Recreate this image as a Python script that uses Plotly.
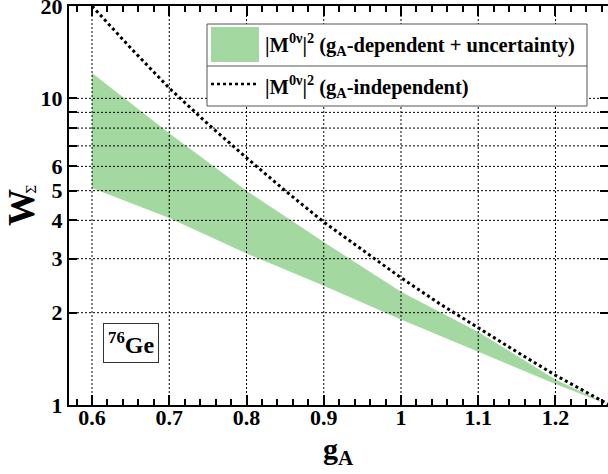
import plotly.graph_objects as go

# ---- data ----
ga_band = [0.6, 0.7, 0.8, 0.9, 1.0, 1.1, 1.2, 1.27]
w_upper = [12.1, 7.7, 5.0, 3.4, 2.34, 1.73, 1.21, 1.0]
w_lower = [5.1, 4.07, 3.12, 2.45, 1.90, 1.49, 1.17, 1.0]

ga_line = [0.6, 0.65, 0.7, 0.75, 0.8, 0.85, 0.9, 0.95, 1.0, 1.05, 1.1, 1.15, 1.2, 1.25, 1.27]
w_line = [20.0, 14.6, 10.8, 8.25, 6.4, 5.0, 3.95, 3.2, 2.6, 2.14, 1.78, 1.49, 1.25, 1.07, 1.0]

x_ticks = [0.6, 0.7, 0.8, 0.9, 1.0, 1.1, 1.2]
x_ticktext = ["0.6", "0.7", "0.8", "0.9", "1", "1.1", "1.2"]
y_ticks = [1, 2, 3, 4, 5, 6, 7, 8, 9, 10, 20]
y_ticktext = ["1", "2", "3", "4", "5", "6", "", "", "", "10", "20"]
y_grid = [2, 3, 4, 5, 6, 7, 8, 9, 10]

legend_band = "|M<sup>0ν</sup>|<sup>2</sup> (g<sub>A</sub>-dependent + uncertainty)"
legend_line = "|M<sup>0ν</sup>|<sup>2</sup> (g<sub>A</sub>-independent)"
nucleus = "<sup>76</sup>Ge"
x_title = "g<sub>A</sub>"
y_title_main = "W"
y_title_sub = "Σ"

GREEN = "#a3d9a0"
FONT = "Liberation Serif"

W, H = 608, 474
L, R, T, B = 69, 0, 6, 69
PW, PH = W - L - R, H - T - B


def px(x):
    return (x - L) / PW


def py(y):
    return (H - B - y) / PH


GRID = dict(color="black", width=1, dash="2px,2px")

fig = go.Figure()
fig.add_trace(go.Scatter(x=ga_band, y=w_lower, mode="lines", line=dict(width=0),
                         showlegend=False, hoverinfo="skip"))
fig.add_trace(go.Scatter(x=ga_band, y=w_upper, mode="lines", line=dict(width=0),
                         fill="tonexty", fillcolor=GREEN, showlegend=False))
fig.add_trace(go.Scatter(x=ga_line, y=w_line, mode="lines",
                         line=dict(color="black", width=3, dash="dot"), showlegend=False))

# grid lines above the band
for v in x_ticks:
    fig.add_shape(type="line", xref="x", yref="paper", x0=v, x1=v, y0=0, y1=1,
                  line=GRID, layer="above")
for v in y_grid:
    fig.add_shape(type="line", xref="paper", yref="y", x0=0, x1=1, y0=v, y1=v,
                  line=GRID, layer="above")

# manual legend
fig.add_shape(type="rect", xref="paper", yref="paper", x0=px(207), x1=px(587), y0=py(106), y1=py(24),
              line=dict(color="#555555", width=1), fillcolor="white", layer="above")
fig.add_shape(type="line", xref="paper", yref="paper", x0=px(207), x1=px(587), y0=py(66), y1=py(66),
              line=dict(color="#555555", width=1), layer="above")
fig.add_shape(type="rect", xref="paper", yref="paper", x0=px(211), x1=px(259), y0=py(62), y1=py(27),
              line=dict(width=0), fillcolor=GREEN, layer="above")
fig.add_shape(type="line", xref="paper", yref="paper", x0=px(211), x1=px(256), y0=py(84), y1=py(84),
              line=dict(color="black", width=2.5, dash="dot"), layer="above")
fig.add_annotation(xref="paper", yref="paper", x=px(263), y=py(44), text=legend_band, showarrow=False,
                   xanchor="left", yanchor="middle", font=dict(family=FONT, size=20.5, color="black"))
fig.add_annotation(xref="paper", yref="paper", x=px(263), y=py(86), text=legend_line, showarrow=False,
                   xanchor="left", yanchor="middle", font=dict(family=FONT, size=20.5, color="black"))

# nucleus label box
fig.add_annotation(xref="paper", yref="paper", x=px(131), y=py(343), text=nucleus, showarrow=False,
                   xanchor="center", yanchor="middle", font=dict(family=FONT, size=24, color="black"),
                   bordercolor="#333333", borderwidth=1, borderpad=4, bgcolor="white")

# axis titles
fig.add_annotation(xref="paper", yref="paper", x=px(338), y=py(451), text=x_title, showarrow=False,
                   xanchor="center", yanchor="middle", font=dict(family=FONT, size=30, color="black"))
fig.add_annotation(xref="paper", yref="paper", x=px(21), y=py(208), text=y_title_main, showarrow=False,
                   textangle=-90, xanchor="center", yanchor="middle",
                   font=dict(family=FONT, size=37, color="black"))
fig.add_annotation(xref="paper", yref="paper", x=px(31), y=py(190), text=y_title_sub, showarrow=False,
                   textangle=-90, xanchor="center", yanchor="middle",
                   font=dict(family="DejaVu Serif", size=13, color="black", weight="normal"))

axis_common = dict(showline=True, linecolor="black", linewidth=2, mirror="allticks",
                   ticks="inside", tickcolor="black", tickwidth=1.5, showgrid=False, zeroline=False,
                   automargin=False, ticklabeloverflow="allow",
                   tickfont=dict(family=FONT, size=22, color="black"))

fig.update_xaxes(range=[0.5702, 1.2680], tickvals=x_ticks, ticktext=x_ticktext, ticklen=10,
                 ticklabelstandoff=-8,
                 minor=dict(dtick=0.02, ticks="inside", ticklen=6, tickcolor="black", tickwidth=1.5,
                            showgrid=False),
                 **axis_common)
fig.update_yaxes(type="log", range=[0, 1.3012], tickvals=y_ticks, ticktext=y_ticktext, ticklen=8,
                 **axis_common)

fig.update_layout(width=W, height=H, margin=dict(l=L, r=R, t=T, b=B, pad=0, autoexpand=False),
                  plot_bgcolor="white", paper_bgcolor="white",
                  font=dict(family=FONT, color="black"))
fig.update_layout(font_weight="bold")
fig.write_html("out.html", config={"displayModeBar": False},
               post_script="document.body.style.margin='0';document.body.style.overflow='hidden';")
